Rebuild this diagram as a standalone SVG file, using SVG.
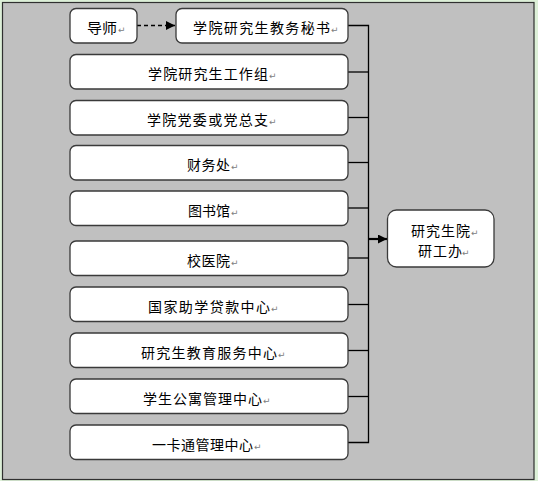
<svg xmlns="http://www.w3.org/2000/svg" width="538" height="481" viewBox="0 0 538 481">
<style>
.box{fill:#ffffff;stroke:#3a3a3a;stroke-width:1.3}
.t{font-family:"Noto Sans CJK SC","Liberation Sans",sans-serif;font-size:14px;fill:#000000}
.m{font-family:"DejaVu Sans",sans-serif;font-size:9px;fill:#808080}
.c{stroke:#000000;stroke-width:1.3;fill:none}
</style>
<defs>
<marker id="ah" viewBox="0 0 10 10" refX="10" refY="5" markerWidth="4" markerHeight="4" orient="auto" markerUnits="userSpaceOnUse">
<path d="M0,0 L10,5 L0,10 z" fill="#000"/>
</marker>
<marker id="ah2" viewBox="0 0 10 10" refX="10" refY="5" markerWidth="9" markerHeight="9" orient="auto" markerUnits="userSpaceOnUse">
<path d="M0,0 L10,5 L0,10 z" fill="#000"/>
</marker>
</defs>
<rect x="0" y="0" width="538" height="481" fill="#ddf0d8"/>
<rect x="2.5" y="2.5" width="531.5" height="477" fill="#c0c0c0" stroke="#303030" stroke-width="1.2"/>

<g id="connectors">
<line class="c" x1="137" y1="25.5" x2="175" y2="25.5" stroke-dasharray="4,3" marker-end="url(#ah2)"/>
<path class="c" d="M348,25.5 H368.5 V442.5 H348"/>
<line class="c" x1="348" y1="72" x2="368.5" y2="72"/>
<line class="c" x1="348" y1="117.5" x2="368.5" y2="117.5"/>
<line class="c" x1="348" y1="162.5" x2="368.5" y2="162.5"/>
<line class="c" x1="348" y1="208" x2="368.5" y2="208"/>
<line class="c" x1="348" y1="258" x2="368.5" y2="258"/>
<line class="c" x1="348" y1="304.5" x2="368.5" y2="304.5"/>
<line class="c" x1="348" y1="350.5" x2="368.5" y2="350.5"/>
<line class="c" x1="348" y1="396.5" x2="368.5" y2="396.5"/>
<line x1="368.5" y1="239" x2="387" y2="239" stroke="#000" stroke-width="2.2" marker-end="url(#ah2)"/>
</g>

<g id="n-daoshi">
<rect class="box" x="70" y="8.5" width="67" height="34.5" rx="6"/>
<text class="t" x="87" y="33" textLength="30" lengthAdjust="spacingAndGlyphs">导师</text>
<text class="m" x="118" y="33">↵</text>
</g>
<g id="n-mishu">
<rect class="box" x="176" y="8.5" width="172" height="34.5" rx="6"/>
<text class="t" x="193" y="33" textLength="137" lengthAdjust="spacing">学院研究生教务秘书</text>
<text class="m" x="331" y="33">↵</text>
</g>
<g id="n-gongzuozu">
<rect class="box" x="70" y="54.5" width="278" height="34.5" rx="6"/>
<text class="t" x="148" y="79" textLength="120" lengthAdjust="spacing">学院研究生工作组</text>
<text class="m" x="269" y="79">↵</text>
</g>
<g id="n-dangwei">
<rect class="box" x="70" y="100.5" width="278" height="34.5" rx="6"/>
<text class="t" x="147" y="125" textLength="121" lengthAdjust="spacing">学院党委或党总支</text>
<text class="m" x="269" y="125">↵</text>
</g>
<g id="n-caiwu">
<rect class="box" x="70" y="145.5" width="278" height="34.5" rx="6"/>
<text class="t" x="187" y="170" textLength="43" lengthAdjust="spacing">财务处</text>
<text class="m" x="231" y="170">↵</text>
</g>
<g id="n-tushuguan">
<rect class="box" x="70" y="191" width="278" height="34.5" rx="6"/>
<text class="t" x="188" y="215.5" textLength="42" lengthAdjust="spacing">图书馆</text>
<text class="m" x="231" y="215.5">↵</text>
</g>
<g id="n-yiyuan">
<rect class="box" x="70" y="241" width="278" height="34.5" rx="6"/>
<text class="t" x="187" y="265.5" textLength="43" lengthAdjust="spacing">校医院</text>
<text class="m" x="231" y="265.5">↵</text>
</g>
<g id="n-daikuan">
<rect class="box" x="70" y="287" width="278" height="34.5" rx="6"/>
<text class="t" x="148" y="311.5" textLength="122" lengthAdjust="spacing">国家助学贷款中心</text>
<text class="m" x="271" y="311.5">↵</text>
</g>
<g id="n-fuwu">
<rect class="box" x="70" y="333" width="278" height="34.5" rx="6"/>
<text class="t" x="141" y="357.5" textLength="136" lengthAdjust="spacing">研究生教育服务中心</text>
<text class="m" x="278" y="357.5">↵</text>
</g>
<g id="n-gongyu">
<rect class="box" x="70" y="379" width="278" height="34.5" rx="6"/>
<text class="t" x="143" y="403.5" textLength="119" lengthAdjust="spacing">学生公寓管理中心</text>
<text class="m" x="263" y="403.5">↵</text>
</g>
<g id="n-yikatong">
<rect class="box" x="70" y="425" width="278" height="34.5" rx="6"/>
<text class="t" x="152" y="449.5" textLength="101" lengthAdjust="spacing">一卡通管理中心</text>
<text class="m" x="254" y="449.5">↵</text>
</g>
<g id="n-yangongban">
<rect class="box" x="387.5" y="210" width="106.5" height="57" rx="9"/>
<text class="t" x="411" y="236" textLength="59" lengthAdjust="spacing">研究生院</text>
<text class="m" x="471" y="236">↵</text>
<text class="t" x="418" y="256" textLength="44" lengthAdjust="spacing">研工办</text>
<text class="m" x="462" y="256">↵</text>
</g>
</svg>
